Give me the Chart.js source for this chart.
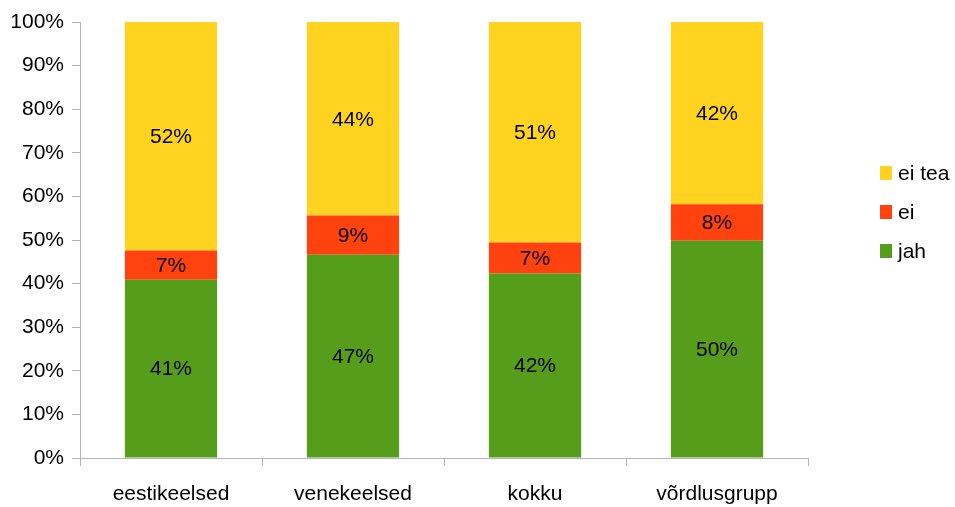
<!DOCTYPE html>
<html>
<head>
<meta charset="utf-8">
<script src="https://cdn.jsdelivr.net/npm/chart.js@4/dist/chart.umd.min.js"></script>
<style>
  html, body { margin: 0; padding: 0; background: #ffffff; }
  #wrap { width: 955px; height: 507px; }
</style>
</head>
<body>
<div id="wrap"><canvas id="c" width="955" height="507"></canvas></div>
<script>
const categories = ["eestikeelsed", "venekeelsed", "kokku", "võrdlusgrupp"];
const jah   = [40.9, 46.6, 42.3, 49.8];
const ei    = [6.7, 9.0, 7.1, 8.4];
const eiTea = [52.4, 44.4, 50.6, 41.8];
const seriesNames = ["jah", "ei", "ei tea"];
const yTicks = [0, 10, 20, 30, 40, 50, 60, 70, 80, 90, 100];

const FONT = "'Liberation Sans', Arial, sans-serif";
const FS = 21;
const AXIS = "#b3b3b3";

const labelPlugin = {
  id: "barLabels",
  afterDatasetsDraw(chart) {
    const ctx = chart.ctx;
    ctx.save();
    ctx.font = FS + "px " + FONT;
    ctx.fillStyle = "#000";
    ctx.textAlign = "center";
    ctx.textBaseline = "middle";
    chart.data.datasets.forEach((ds, di) => {
      const meta = chart.getDatasetMeta(di);
      meta.data.forEach((el, i) => {
        const p = el.getCenterPoint();
        ctx.fillText(Math.round(ds.data[i]) + "%", p.x, p.y + 1);
      });
    });
    ctx.restore();
  }
};

const legendPlugin = {
  id: "sideLegend",
  afterDraw(chart) {
    const ctx = chart.ctx;
    const ds = chart.data.datasets;
    const x0 = chart.chartArea.right + 72;
    const rowY = [173, 212, 251];
    ctx.save();
    ctx.font = FS + "px " + FONT;
    ctx.textBaseline = "middle";
    ctx.textAlign = "left";
    for (let k = 0; k < ds.length; k++) {
      const d = ds[ds.length - 1 - k];
      const y = rowY[k];
      ctx.fillStyle = d.backgroundColor;
      ctx.fillRect(x0, y - 7, 12, 14);
      ctx.fillStyle = "#000";
      ctx.fillText(d.label, x0 + 18, y + 1);
    }
    ctx.restore();
  }
};

new Chart(document.getElementById("c"), {
  type: "bar",
  data: {
    labels: categories,
    datasets: [
      { label: seriesNames[0], data: jah,   backgroundColor: "#579d1c" },
      { label: seriesNames[1], data: ei,    backgroundColor: "#ff420e" },
      { label: seriesNames[2], data: eiTea, backgroundColor: "#ffd320" }
    ]
  },
  options: {
    responsive: false,
    animation: false,
    devicePixelRatio: 1,
    layout: { padding: { top: 22, left: 12, right: 147, bottom: 0 } },
    plugins: {
      legend: { display: false },
      tooltip: { enabled: false }
    },
    datasets: { bar: { categoryPercentage: 1.0, barPercentage: 0.507 } },
    scales: {
      x: {
        stacked: true,
        afterFit(axis) { axis.height = 49; },
        grid: { display: true, drawOnChartArea: false, drawTicks: true, tickLength: 8, color: AXIS, offset: true },
        border: { display: true, color: AXIS },
        ticks: { color: "#000", font: { family: FONT, size: FS }, padding: 16, maxRotation: 0 }
      },
      y: {
        stacked: true,
        min: 0,
        max: 100,
        afterFit(axis) { axis.width = 68; },
        afterBuildTicks(axis) { axis.ticks = yTicks.map(v => ({ value: v })); },
        grid: { display: true, drawOnChartArea: false, drawTicks: true, tickLength: 8, color: AXIS },
        border: { display: true, color: AXIS },
        ticks: { color: "#000", font: { family: FONT, size: FS }, padding: 8, callback: v => v + "%" }
      }
    }
  },
  plugins: [labelPlugin, legendPlugin]
});
</script>
</body>
</html>
